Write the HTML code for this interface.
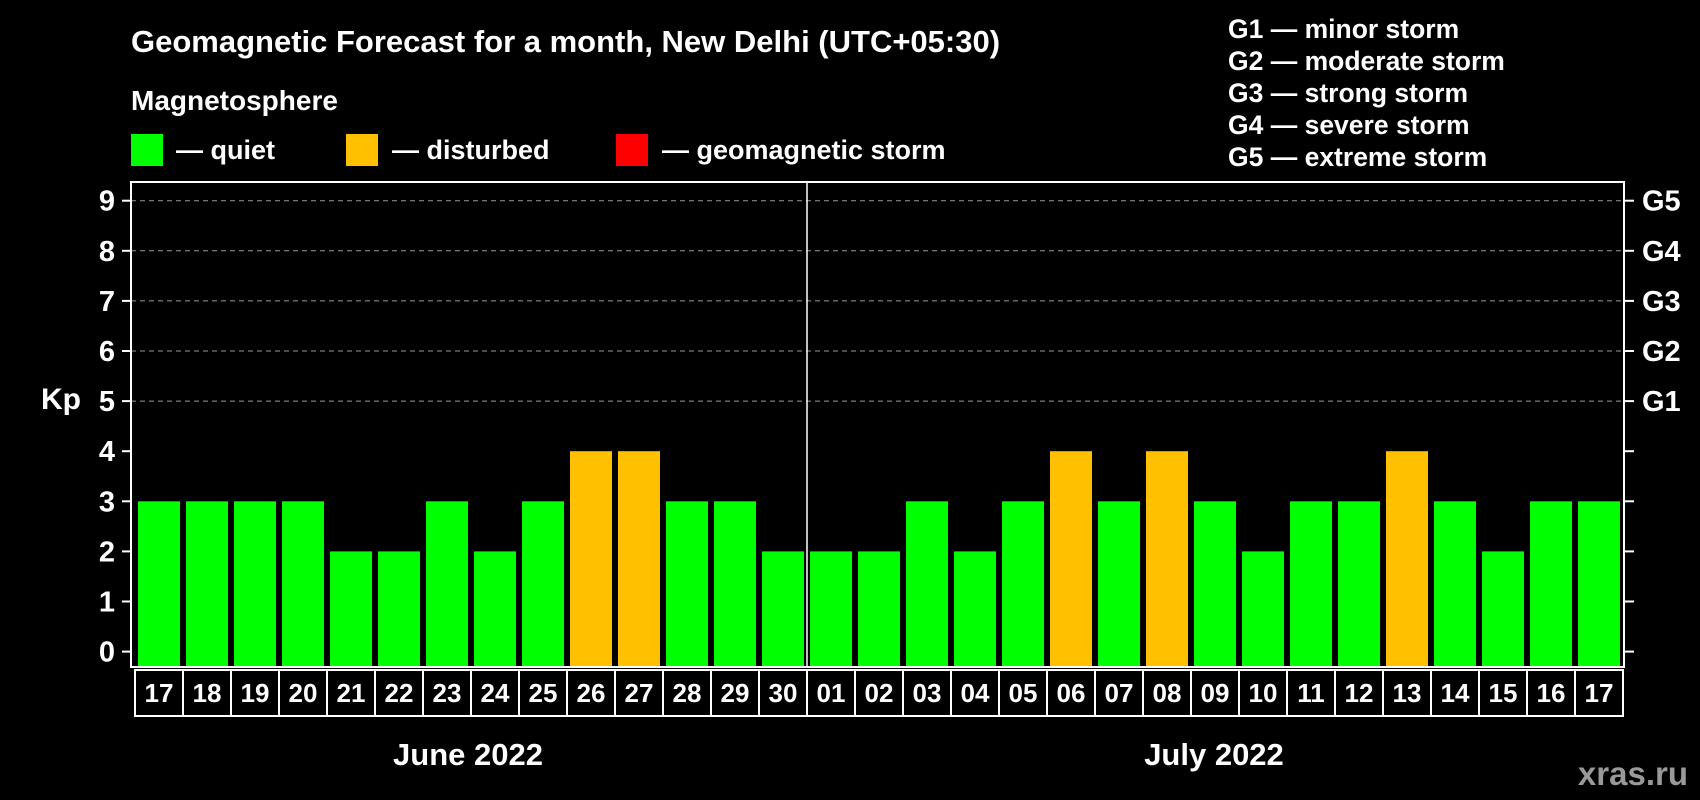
<!DOCTYPE html>
<html><head><meta charset="utf-8"><style>
html,body{margin:0;padding:0;background:#000;}
svg{display:block;font-family:"Liberation Sans",Arial,sans-serif;font-weight:bold;}
</style></head><body>
<svg id="chart" width="1700" height="800" viewBox="0 0 1700 800">
<rect width="1700" height="800" fill="#000"/>
<text x="131" y="52" fill="#fff" font-size="31">Geomagnetic Forecast for a month, New Delhi (UTC+05:30)</text>
<text x="131" y="110" fill="#fff" font-size="28">Magnetosphere</text>
<g><rect x="131" y="134" width="32" height="32" fill="#00ff00"/><text x="176" y="159" fill="#fff" font-size="27">— quiet</text></g>
<g><rect x="346" y="134" width="32" height="32" fill="#ffc000"/><text x="392" y="159" fill="#fff" font-size="27">— disturbed</text></g>
<g><rect x="616" y="134" width="32" height="32" fill="#ff0000"/><text x="662" y="159" fill="#fff" font-size="27">— geomagnetic storm</text></g>
<g fill="#fff" font-size="26.5">
<text x="1228" y="38">G1 — minor storm</text>
<text x="1228" y="70">G2 — moderate storm</text>
<text x="1228" y="102">G3 — strong storm</text>
<text x="1228" y="134">G4 — severe storm</text>
<text x="1228" y="166">G5 — extreme storm</text>
</g>
<text x="41" y="409" fill="#fff" font-size="30">Kp</text>
<g id="grid"></g><g id="bars"></g><g id="axes"></g>
<text x="468" y="765" fill="#fff" font-size="31" text-anchor="middle">June 2022</text>
<text x="1214" y="765" fill="#fff" font-size="31" text-anchor="middle">July 2022</text>
<text x="1688" y="785" fill="#999" font-size="33" text-anchor="end">xras.ru</text>
</svg>
<script>
const dates=["17","18","19","20","21","22","23","24","25","26","27","28","29","30","01","02","03","04","05","06","07","08","09","10","11","12","13","14","15","16","17"];
const kpValues=[3,3,3,3,2,2,3,2,3,4,4,3,3,2,2,2,3,2,3,4,3,4,3,2,3,3,4,3,2,3,3];
const yTicks=[0,1,2,3,4,5,6,7,8,9];
const gLabels=["","","","","","G1","G2","G3","G4","G5"];
const NS="http://www.w3.org/2000/svg";
const L=131,R=1624,T=182,B=667,x0=135,slot=48,bw=42;
const y=v=>651.6-v*50.1;
const x=i=>x0+i*slot;
function mk(t,a,p){const e=document.createElementNS(NS,t);for(const k in a)e.setAttribute(k,a[k]);p.appendChild(e);return e;}
const grid=document.getElementById('grid'),bars=document.getElementById('bars'),axes=document.getElementById('axes');
yTicks.forEach((v,i)=>{
 if(v>=5){const g=mk('line',{x1:L,x2:R,y1:y(v),y2:y(v),stroke:'#999','stroke-dasharray':'5,4','stroke-width':1},grid);
 }
 const t1=mk('line',{x1:122,x2:L,y1:y(v),y2:y(v),stroke:'#fff','stroke-width':2},axes);
 
 const t2=mk('line',{x1:R,x2:1634,y1:y(v),y2:y(v),stroke:'#fff','stroke-width':2},axes);
 
 const lb=mk('text',{x:115,y:y(v)+10,fill:'#fff','font-size':29,'text-anchor':'end'},axes);lb.textContent=v;
 
 if(gLabels[i]){const gl=mk('text',{x:1642,y:y(v)+10,fill:'#fff','font-size':29},axes);gl.textContent=gLabels[i];
 }
});
kpValues.forEach((v,i)=>{
 const c=v>=5?'#ff0000':v>=4?'#ffc000':'#00ff00';
 const r=mk('rect',{x:x(i)+3,y:y(v),width:bw,height:B-y(v),fill:c},bars);
 
 const bx=mk('rect',{x:x(i),y:B+3,width:slot,height:46,fill:'none',stroke:'#fff','stroke-width':2},axes);
 
 const dt=mk('text',{x:x(i)+slot/2,y:B+35,fill:'#fff','font-size':26,'text-anchor':'middle'},axes);dt.textContent=dates[i];
 
});
const fr=mk('rect',{x:L,y:T,width:R-L,height:B-T,fill:'none',stroke:'#fff','stroke-width':2},axes);

const dv=mk('line',{x1:x(14),x2:x(14),y1:T,y2:B,stroke:'#fff','stroke-width':1.5},axes);

</script>
</body></html>
